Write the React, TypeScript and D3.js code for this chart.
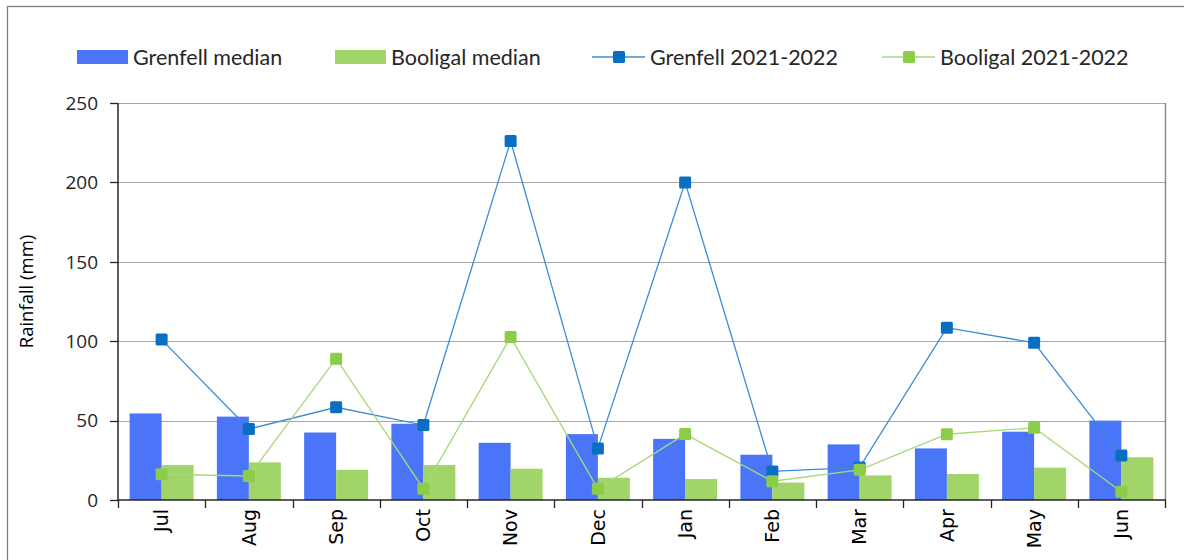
import React, { useRef, useEffect } from "react";
import { select, scaleBand, scaleLinear, line } from "d3";

const months = ["Jul", "Aug", "Sep", "Oct", "Nov", "Dec", "Jan", "Feb", "Mar", "Apr", "May", "Jun"];
const grenfellMedian = [54.5, 52.5, 42.5, 48, 36, 41.5, 38.5, 28.5, 35, 32.5, 43, 50];
const booligalMedian = [22, 23.7, 19, 22, 19.7, 14, 13.2, 11, 15.5, 16.4, 20.4, 26.9];
const grenfell2122 = [101, 44.7, 58.4, 47.2, 226, 32.5, 200, 18, 20.5, 108.5, 99, 28];
const booligal2122 = [16.2, 15.1, 89, 7.1, 102.6, 7.1, 41.5, 11.8, 19, 41.4, 45.5, 5.2];
const yTicks = [0, 50, 100, 150, 200, 250];

const W = 1184;
const H = 560;
const margin = { left: 118, right: 19, top: 103, bottom: 60 };

const BLUE_BAR = "#4a75f8";
const GREEN_BAR = "#a1d569";
const BLUE_LINE = "#3d8bd4";
const BLUE_MARK = "#0a6fc2";
const GREEN_LINE = "#a6d97a";
const GREEN_MARK = "#8ccc4a";

function RainfallChart() {
  const svgRef = useRef(null);

  useEffect(() => {
    const svg = select(svgRef.current);
    svg.selectAll("*").remove();

    const x = scaleBand()
      .domain(months)
      .range([margin.left, W - margin.right]);

    const y = scaleLinear()
      .domain([0, 250])
      .range([H - margin.bottom, margin.top]);

    // bars sit in the middle of each band, gap ~ 36%
    const groupW = x.bandwidth() * 0.733;
    const x1 = scaleBand()
      .domain(["g", "b"])
      .range([(x.bandwidth() - groupW) / 2, (x.bandwidth() + groupW) / 2]);

    // outer frame
    svg.append("rect")
      .attr("x", 7.5).attr("y", 6.5)
      .attr("width", W + 10).attr("height", H + 10)
      .attr("fill", "none").attr("stroke", "#7f7f7f").attr("stroke-width", 1.3);

    // gridlines
    svg.selectAll(".grid")
      .data(yTicks.filter(t => t > 0))
      .join("line")
      .attr("class", "grid")
      .attr("x1", margin.left).attr("x2", W - margin.right)
      .attr("y1", d => Math.round(y(d)) + 0.5).attr("y2", d => Math.round(y(d)) + 0.5)
      .attr("stroke", "#a6a6a6").attr("stroke-width", 1.2);

    // right border of plot area
    svg.append("line")
      .attr("x1", W - margin.right + 0.5).attr("x2", W - margin.right + 0.5)
      .attr("y1", y(250)).attr("y2", y(0))
      .attr("stroke", "#8c8c8c").attr("stroke-width", 1.5);

    // bars
    const fields = [
      { key: "g", values: grenfellMedian, color: BLUE_BAR },
      { key: "b", values: booligalMedian, color: GREEN_BAR },
    ];
    fields.forEach(f => {
      svg.selectAll(".bar-" + f.key)
        .data(f.values)
        .join("rect")
        .attr("class", "bar-" + f.key)
        .attr("x", (d, i) => x(months[i]) + x1(f.key))
        .attr("width", x1.bandwidth())
        .attr("y", d => y(d))
        .attr("height", d => y(0) - y(d))
        .attr("fill", f.color);
    });

    // y axis
    svg.append("line")
      .attr("x1", margin.left).attr("x2", margin.left)
      .attr("y1", y(250)).attr("y2", y(0))
      .attr("stroke", "#262626").attr("stroke-width", 1.5);
    svg.selectAll(".ytick")
      .data(yTicks)
      .join("line")
      .attr("class", "ytick")
      .attr("x1", margin.left - 8).attr("x2", margin.left)
      .attr("y1", d => Math.round(y(d)) + 0.5).attr("y2", d => Math.round(y(d)) + 0.5)
      .attr("stroke", "#262626").attr("stroke-width", 1.3);
    svg.selectAll(".ylabel")
      .data(yTicks)
      .join("text")
      .attr("class", "ylabel")
      .attr("x", 98)
      .attr("y", d => y(d))
      .attr("dy", "0.36em")
      .attr("text-anchor", "end")
      .attr("font-family", "Open Sans")
      .attr("font-size", 19)
      .attr("fill", "#262626")
      .text(d => d);

    svg.append("text")
      .attr("transform", `translate(33, ${(y(0) + y(250)) / 2 - 10}) rotate(-90)`)
      .attr("text-anchor", "middle")
      .attr("font-family", "Open Sans")
      .attr("font-size", 18.5)
      .attr("fill", "#000")
      .text("Rainfall (mm)");

    // x axis
    svg.append("line")
      .attr("x1", margin.left).attr("x2", W - margin.right + 1)
      .attr("y1", y(0)).attr("y2", y(0))
      .attr("stroke", "#262626").attr("stroke-width", 1.5);
    svg.selectAll(".xtick")
      .data([...months.map(m => x(m)), W - margin.right])
      .join("line")
      .attr("class", "xtick")
      .attr("x1", d => Math.round(d) + 0.5).attr("x2", d => Math.round(d) + 0.5)
      .attr("y1", y(0)).attr("y2", y(0) + 8)
      .attr("stroke", "#262626").attr("stroke-width", 1.3);
    svg.selectAll(".xlabel")
      .data(months)
      .join("text")
      .attr("class", "xlabel")
      .attr("transform", d => `translate(${x(d) + x.bandwidth() / 2}, ${y(0) + 9}) rotate(-90)`)
      .attr("dy", "0.36em")
      .attr("text-anchor", "end")
      .attr("font-family", "DejaVu Sans")
      .attr("font-size", 19)
      .attr("fill", "#000")
      .text(d => d);

    // lines + markers
    const series = [
      { values: grenfell2122, line: BLUE_LINE, mark: BLUE_MARK },
      { values: booligal2122, line: GREEN_LINE, mark: GREEN_MARK },
    ];
    const cx = (i) => x(months[i]) + x.bandwidth() / 2;
    series.forEach((s, k) => {
      const path = line()
        .x((d, i) => cx(i))
        .y(d => y(d));
      svg.append("path")
        .datum(s.values)
        .attr("d", path)
        .attr("fill", "none")
        .attr("stroke", s.line)
        .attr("stroke-width", 1.3);
      svg.selectAll(".mark" + k)
        .data(s.values)
        .join("rect")
        .attr("class", "mark" + k)
        .attr("x", (d, i) => cx(i) - 6)
        .attr("y", d => y(d) - 6)
        .attr("width", 12).attr("height", 12)
        .attr("rx", 1.5)
        .attr("fill", s.mark);
    });

    // legend
    const legend = [
      { label: "Grenfell median", type: "bar", color: BLUE_BAR, x: 77 },
      { label: "Booligal median", type: "bar", color: GREEN_BAR, x: 335 },
      { label: "Grenfell 2021-2022", type: "line", color: BLUE_LINE, mark: BLUE_MARK, x: 592 },
      { label: "Booligal 2021-2022", type: "line", color: GREEN_LINE, mark: GREEN_MARK, x: 882 },
    ];
    const ly = 57;
    legend.forEach(l => {
      const g = svg.append("g");
      if (l.type === "bar") {
        g.append("rect")
          .attr("x", l.x).attr("y", ly - 7)
          .attr("width", 51).attr("height", 14)
          .attr("fill", l.color);
      } else {
        g.append("line")
          .attr("x1", l.x).attr("x2", l.x + 53)
          .attr("y1", ly).attr("y2", ly)
          .attr("stroke", l.color).attr("stroke-width", 1.6);
        g.append("rect")
          .attr("x", l.x + 21).attr("y", ly - 6)
          .attr("width", 12).attr("height", 12)
          .attr("rx", 1.5)
          .attr("fill", l.mark);
      }
      g.append("text")
        .attr("x", l.x + (l.type === "bar" ? 56 : 58))
        .attr("y", ly)
        .attr("dy", "0.36em")
        .attr("font-family", "Lato")
        .attr("font-size", 21.5)
        .attr("fill", "#262626")
        .text(l.label);
    });
  }, []);

  return (
    <svg
      ref={svgRef}
      width={W}
      height={H}
      style={{ position: "absolute", left: 0, top: 0, background: "#fff" }}
    ></svg>
  );
}

export default function App() {
  return <RainfallChart />;
}
